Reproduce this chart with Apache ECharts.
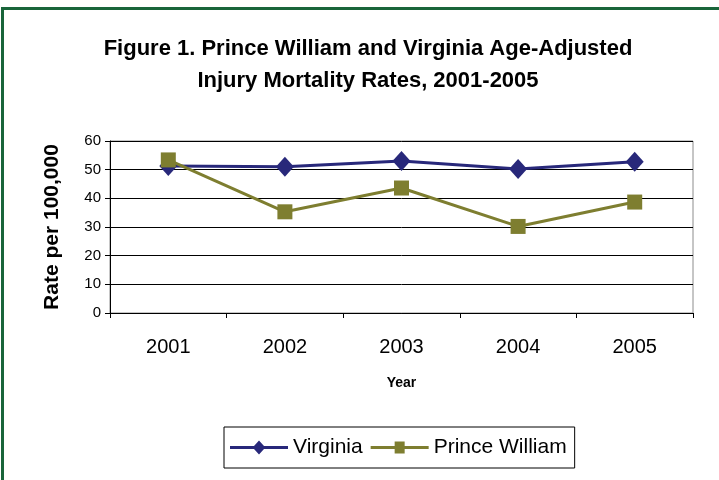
<!DOCTYPE html>
<html>
<head>
<meta charset="utf-8">
<script src="https://cdn.jsdelivr.net/npm/echarts@6/dist/echarts.min.js"></script>
<style>
  html, body { margin: 0; padding: 0; background: #fff; }
  #chart { position: absolute; left: 0; top: 0; width: 719px; height: 480px; }
  .frame {
    position: absolute; left: 1px; top: 7px; width: 718px; height: 473px;
    border-top: 3px solid #19653a; border-left: 3px solid #19653a;
    box-sizing: border-box; pointer-events: none;
  }
</style>
</head>
<body>
<div id="chart"></div>
<div class="frame"></div>
<script>
const years = ["2001", "2002", "2003", "2004", "2005"];
const virginia = [51.3, 51.0, 53.0, 50.2, 52.8];
const princeWilliam = [53.4, 35.3, 43.6, 30.2, 38.7];
const yTicks = [0, 10, 20, 30, 40, 50, 60];

const navy = "#28287a";
const olive = "#7e7e30";
const font = "Liberation Sans, Arial, sans-serif";

const myChart = echarts.init(document.getElementById("chart"));
myChart.setOption({
  animation: false,
  title: {
    text: "Figure 1. Prince William and Virginia Age-Adjusted\nInjury Mortality Rates, 2001-2005",
    left: 363,
    top: 28,
    textAlign: "center",
    textStyle: { fontFamily: font, fontSize: 22, fontWeight: "bold", color: "#000", lineHeight: 32 }
  },
  legend: {
    bottom: 12,
    left: 224,
    itemGap: 8,
    itemWidth: 58,
    itemHeight: 14,
    padding: [10, 8, 10, 6],
    borderColor: "#000",
    borderWidth: 1,
    textStyle: { fontFamily: font, fontSize: 21, color: "#000" },
    data: [
      { name: "Virginia", icon: "path://M0,5.5 L24,5.5 L29,0 L34,5.5 L58,5.5 L58,8.5 L34,8.5 L29,14 L24,8.5 L0,8.5 Z" },
      { name: "Prince William", icon: "path://M0,5.5 L24,5.5 L24,1 L34,1 L34,5.5 L58,5.5 L58,8.5 L34,8.5 L34,13 L24,13 L24,8.5 L0,8.5 Z" }
    ]
  },
  grid: { left: 110, right: 26, top: 141, bottom: 167, show: true, borderColor: "#8c8c8c", borderWidth: 1 },
  xAxis: {
    type: "category",
    data: years,
    name: "Year",
    nameLocation: "middle",
    nameGap: 63,
    nameTextStyle: { fontFamily: font, fontSize: 14, fontWeight: "bold", color: "#000" },
    axisLine: { lineStyle: { color: "#000", width: 1 } },
    axisTick: { show: true, length: 5, lineStyle: { color: "#000" } },
    axisLabel: { fontFamily: font, fontSize: 20, color: "#000", margin: 24 }
  },
  yAxis: {
    type: "value",
    min: yTicks[0],
    max: yTicks[yTicks.length - 1],
    interval: 10,
    name: "Rate per 100,000",
    nameLocation: "middle",
    nameGap: 47,
    nameTextStyle: { fontFamily: font, fontSize: 21, fontWeight: "bold", color: "#000" },
    axisLine: { show: true, lineStyle: { color: "#000", width: 1 } },
    axisTick: { show: true, length: 5, lineStyle: { color: "#000" } },
    axisLabel: { fontFamily: font, fontSize: 15, color: "#000", margin: 9 },
    splitLine: { lineStyle: { color: "#000", width: 1 } }
  },
  series: [
    {
      name: "Virginia",
      type: "line",
      data: virginia,
      symbol: "diamond",
      symbolSize: [18, 20],
      lineStyle: { color: navy, width: 3 },
      itemStyle: { color: navy },
      z: 3
    },
    {
      name: "Prince William",
      type: "line",
      data: princeWilliam,
      symbol: "rect",
      symbolSize: 15,
      lineStyle: { color: olive, width: 3 },
      itemStyle: { color: olive },
      z: 4
    }
  ]
});
</script>
</body>
</html>
